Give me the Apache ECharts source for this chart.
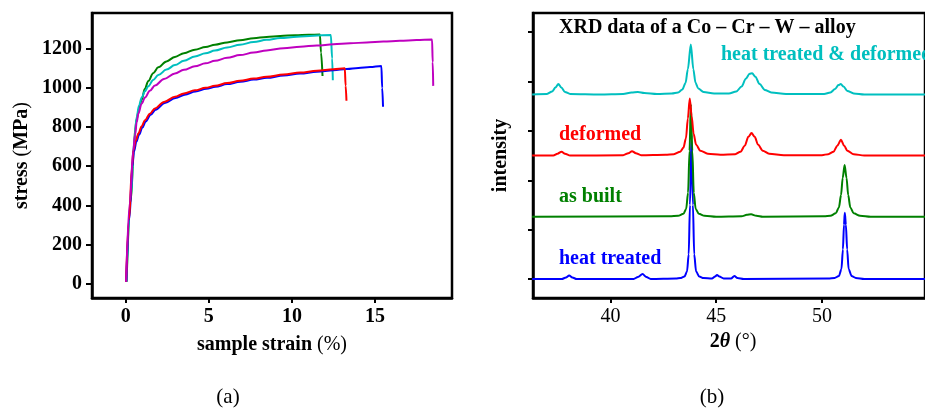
<!DOCTYPE html>
<html><head><meta charset="utf-8">
<script src="https://cdn.jsdelivr.net/npm/echarts@6/dist/echarts.min.js"></script>
<style>html,body{margin:0;padding:0;background:#fff}#c{width:925px;height:408px}</style>
</head><body><div id="c"></div>
<script>
// ---- Panel (a): stress-strain curves [strain %, stress MPa]
const strainTicks = [0, 5, 10, 15];
const stressTicks = [0, 200, 400, 600, 800, 1000, 1200];
const curveGreen = [[0.05,10],[0.3,420],[0.5,700],[0.56,783],[0.66,840],[0.8,895],[0.96,940],[1.15,995],[1.36,1035],[1.65,1075],[1.96,1105],[2.45,1135],[2.96,1158],[3.5,1177],[4.16,1195],[4.8,1208],[5.37,1220],[6.1,1232],[6.87,1243],[7.7,1253],[8.47,1260],[9.3,1265],[10.2,1269],[11,1271],[11.68,1272],[11.75,1180],[11.84,1060]];
const curveCyan = [[0.04,10],[0.3,430],[0.5,720],[0.66,852],[0.8,910],[0.96,950],[1.15,982],[1.36,1008],[1.65,1040],[1.96,1065],[2.45,1093],[2.96,1116],[3.5,1138],[4.16,1160],[4.8,1176],[5.37,1190],[6.1,1206],[6.87,1220],[7.7,1234],[8.47,1245],[9.3,1254],[10.3,1261],[11.3,1266],[12.34,1270],[12.42,1150],[12.46,1039]];
const curveMagenta = [[0.02,10],[0.25,420],[0.45,680],[0.56,760],[0.66,825],[0.76,869],[0.95,918],[1.16,950],[1.45,985],[1.76,1012],[2.3,1045],[2.96,1073],[3.5,1092],[4.16,1110],[4.8,1125],[5.37,1138],[6.1,1153],[6.87,1167],[7.7,1180],[8.47,1191],[9.5,1202],[10.5,1210],[11.5,1216],[12.5,1222],[13.5,1227],[14.5,1232],[15.5,1236],[16.5,1240],[17.5,1244],[18.43,1247],[18.47,1130],[18.5,1010]];
const curveRed = [[0.02,10],[0.2,330],[0.38,600],[0.46,682],[0.6,730],[0.76,767],[0.95,803],[1.16,835],[1.45,868],[1.76,895],[2.3,928],[2.96,954],[3.5,971],[4.16,987],[4.8,1000],[5.37,1010],[6.1,1024],[6.87,1036],[7.7,1047],[8.47,1056],[9.5,1068],[10.5,1078],[11.5,1087],[12.5,1095],[13.18,1100],[13.23,1010],[13.28,934]];
const curveBlue = [[0.03,10],[0.22,330],[0.4,600],[0.5,676],[0.64,725],[0.8,760],[1.0,797],[1.2,828],[1.5,862],[1.8,888],[2.35,922],[3,948],[3.55,965],[4.2,981],[4.85,995],[5.4,1005],[6.1,1019],[6.9,1031],[7.7,1042],[8.5,1051],[9.5,1063],[10.5,1073],[11.5,1082],[12.5,1090],[13.3,1096],[14,1101],[14.7,1106],[15.38,1112],[15.43,1000],[15.48,903]];

// ---- Panel (b): XRD patterns [2theta deg, offset intensity]
const thetaTicks = [40, 45, 50];
const intensityTicks = [0, 1, 2, 3, 4, 5];
const xrdHeatTreated = [[36.3,0],[37.7,0],[37.9,0.03],[38.05,0.07],[38.2,0.03],[38.4,0],[41.1,0],[41.3,0.04],[41.52,0.1],[41.7,0.04],[41.9,0],[43.1,0.01],[43.3,0.02],[43.5,0.05],[43.62,0.15],[43.7,0.5],[43.76,1.5],[43.83,2.92],[43.9,1.5],[43.96,0.5],[44.05,0.15],[44.2,0.05],[44.4,0.02],[44.8,0.01],[44.95,0.05],[45.04,0.08],[45.15,0.05],[45.35,0.01],[45.7,0.01],[45.86,0.06],[46.0,0.02],[46.3,0],[50.3,0.01],[50.6,0.02],[50.8,0.06],[50.92,0.2],[50.99,0.6],[51.04,1.1],[51.08,1.34],[51.13,1.1],[51.19,0.6],[51.26,0.2],[51.4,0.06],[51.6,0.02],[52,0],[55,0]];
const xrdAsBuilt = [[36.3,1.26],[42.8,1.27],[43.2,1.28],[43.45,1.32],[43.58,1.42],[43.67,1.75],[43.74,2.6],[43.8,3.54],[43.87,2.6],[43.94,1.75],[44.03,1.42],[44.18,1.32],[44.45,1.28],[45,1.26],[46.2,1.27],[46.45,1.3],[46.65,1.31],[46.9,1.28],[47.2,1.26],[50.1,1.27],[50.4,1.28],[50.65,1.33],[50.8,1.45],[50.9,1.7],[50.98,2.05],[51.07,2.31],[51.16,2.05],[51.24,1.7],[51.34,1.45],[51.5,1.33],[51.8,1.28],[52.3,1.26],[55,1.26]];
const xrdDeformed = [[36.3,2.5],[37.3,2.5],[37.5,2.54],[37.69,2.58],[37.85,2.54],[38.1,2.5],[40.6,2.51],[40.85,2.55],[41.02,2.59],[41.2,2.55],[41.45,2.51],[42.6,2.52],[43.0,2.53],[43.3,2.58],[43.45,2.66],[43.57,2.85],[43.66,3.25],[43.75,3.66],[43.84,3.3],[43.93,2.95],[44.05,2.72],[44.25,2.6],[44.6,2.54],[45.2,2.52],[45.9,2.53],[46.15,2.58],[46.35,2.7],[46.52,2.88],[46.67,2.96],[46.82,2.88],[46.98,2.72],[47.2,2.6],[47.5,2.54],[48.2,2.51],[50.0,2.51],[50.3,2.53],[50.55,2.58],[50.72,2.7],[50.9,2.82],[51.05,2.7],[51.2,2.6],[51.5,2.53],[52,2.5],[55,2.5]];
const xrdHtDeformed = [[36.3,3.74],[37.0,3.75],[37.25,3.8],[37.4,3.88],[37.54,3.95],[37.68,3.88],[37.85,3.79],[38.1,3.75],[39.5,3.74],[40.6,3.75],[41.0,3.78],[41.3,3.79],[41.6,3.77],[42.2,3.75],[42.9,3.76],[43.2,3.78],[43.4,3.84],[43.55,3.97],[43.66,4.25],[43.8,4.75],[43.92,4.25],[44.02,3.98],[44.15,3.86],[44.4,3.79],[44.9,3.76],[45.6,3.76],[45.95,3.8],[46.2,3.9],[46.4,4.06],[46.58,4.16],[46.7,4.17],[46.85,4.1],[47.05,3.95],[47.3,3.83],[47.6,3.78],[48.3,3.75],[50.1,3.75],[50.4,3.78],[50.62,3.85],[50.78,3.93],[50.89,3.95],[51.02,3.9],[51.2,3.81],[51.5,3.76],[52,3.74],[55,3.74]];

const SERIF = '"Liberation Serif","DejaVu Serif",serif';
const FS = 20;
const chart = echarts.init(document.getElementById('c'), null, {renderer: 'canvas'});
const axisLine = {show: true, onZero: false, lineStyle: {color: '#000', width: 2.5}};
const tick = (vals, len) => ({show: true, length: len, customValues: vals, lineStyle: {color: '#000', width: 2}});
const line = (name, data, color, xi, sm) => ({
  type: 'line', name, data, xAxisIndex: xi, yAxisIndex: xi, showSymbol: false, symbol: 'none',
  lineStyle: {color, width: 2}, itemStyle: {color}, smooth: sm, smoothMonotone: 'x', animation: false, z: 3
});
const bold = {fontFamily: SERIF, fontWeight: 'bold', fontSize: FS, color: '#000'};
const reg = {fontFamily: SERIF, fontSize: FS, color: '#000'};

chart.setOption({
  animation: false,
  backgroundColor: '#fff',
  textStyle: {fontFamily: SERIF},
  grid: [
    {left: 92, top: 13, width: 360, height: 285, show: true, borderColor: '#000', borderWidth: 2.5, containLabel: false},
    {left: 533, top: 13, width: 430, height: 285, show: true, borderColor: '#000', borderWidth: 2.5, containLabel: false}
  ],
  xAxis: [
    {type: 'value', gridIndex: 0, min: -2.03, max: 19.63, axisLine, splitLine: {show: false},
     axisTick: tick(strainTicks, 5),
     axisLabel: {customValues: strainTicks, formatter: v => String(v), color: '#000', fontFamily: SERIF, fontWeight: 'bold', fontSize: FS, margin: 9},
     name: '{b|sample strain }{r|(%)}', nameLocation: 'middle', nameGap: 37,
     nameTextStyle: {rich: {b: bold, r: reg}}},
    {type: 'value', gridIndex: 1, min: 36.34, max: 54.87, axisLine, splitLine: {show: false},
     axisTick: tick(thetaTicks, 5),
     axisLabel: {customValues: thetaTicks, formatter: v => String(v), color: '#000', fontFamily: SERIF, fontSize: FS, margin: 9}}
  ],
  yAxis: [
    {type: 'value', gridIndex: 0, min: -73, max: 1382, axisLine, splitLine: {show: false},
     axisTick: tick(stressTicks, 6),
     axisLabel: {customValues: stressTicks, formatter: v => String(v), color: '#000', fontFamily: SERIF, fontWeight: 'bold', fontSize: FS, margin: 10},
     name: '{b|stress }{r|(}{b|MPa}{r|)}', nameLocation: 'middle', nameGap: 60,
     nameTextStyle: {rich: {b: bold, r: reg}}},
    {type: 'value', gridIndex: 1, min: -0.385, max: 5.39, axisLine, splitLine: {show: false},
     axisTick: tick(intensityTicks, 5),
     axisLabel: {show: false},
     name: 'intensity', nameLocation: 'middle', nameGap: 22,
     nameTextStyle: bold}
  ],
  series: [
    line('green', curveGreen, '#008000', 0, 0.35),
    line('cyan', curveCyan, '#00bfbf', 0, 0.35),
    line('blue', curveBlue, '#0000ff', 0, 0.35),
    line('red', curveRed, '#ff0000', 0, 0.35),
    line('magenta', curveMagenta, '#bf00bf', 0, 0.35),
    line('heat treated', xrdHeatTreated, '#0000ff', 1, 0.3),
    line('as built', xrdAsBuilt, '#008000', 1, 0.3),
    line('deformed', xrdDeformed, '#ff0000', 1, 0.3),
    line('heat treated & deformed', xrdHtDeformed, '#00bfbf', 1, 0.3)
  ],
  graphic: [
    {type: 'text', left: 559, top: 18, style: {text: 'XRD data of a Co – Cr – W – alloy', fontFamily: SERIF, fontWeight: 'bold', fontSize: FS, fill: '#000'}},
    {type: 'text', left: 721, top: 45, style: {text: 'heat treated & deformed', fontFamily: SERIF, fontWeight: 'bold', fontSize: FS, fill: '#00bfbf'}},
    {type: 'text', left: 559, top: 125, style: {text: 'deformed', fontFamily: SERIF, fontWeight: 'bold', fontSize: FS, fill: '#ff0000'}},
    {type: 'text', left: 559, top: 187, style: {text: 'as built', fontFamily: SERIF, fontWeight: 'bold', fontSize: FS, fill: '#008000'}},
    {type: 'text', left: 559, top: 249, style: {text: 'heat treated', fontFamily: SERIF, fontWeight: 'bold', fontSize: FS, fill: '#0000ff'}},
    {type: 'text', x: 228, y: 397, style: {text: '(a)', fontFamily: SERIF, fontSize: 21, fill: '#000', align: 'center', verticalAlign: 'middle'}},
    {type: 'text', x: 712, y: 397, style: {text: '(b)', fontFamily: SERIF, fontSize: 21, fill: '#000', align: 'center', verticalAlign: 'middle'}},
    {type: 'text', x: 733, y: 342, style: {text: '{b|2}{i|θ}{r| (°)}', align: 'center', verticalAlign: 'middle', rich: {b: {fontFamily: SERIF, fontWeight: 'bold', fontSize: FS, fill: '#000'}, i: {fontFamily: SERIF, fontWeight: 'bold', fontStyle: 'italic', fontSize: FS, fill: '#000'}, r: {fontFamily: SERIF, fontSize: FS, fill: '#000'}}}}
  ]
});
</script></body></html>
